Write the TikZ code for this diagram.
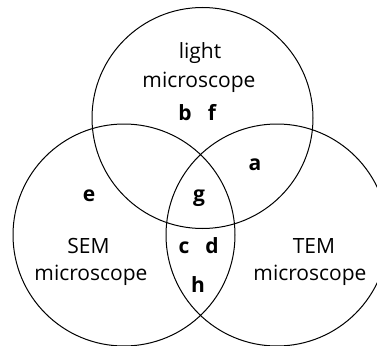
\documentclass[tikz,border=0pt]{standalone}
\usepackage{fontspec}
\setmainfont{Open Sans}
\begin{document}
\begin{tikzpicture}[x=1pt,y=-1pt,
  ring/.style={draw=black,line width=1pt},
  lbl/.style={anchor=base,inner sep=0pt,font=\fontsize{21}{25}\selectfont},
  let/.style={anchor=base,inner sep=0pt,font=\fontsize{21}{25}\selectfont\bfseries}]
\useasboundingbox (0,0) rectangle (377,345);
\clip (0,0) rectangle (377,345);
\draw[ring] (202.5,118) circle (110.5);
\draw[ring] (124,235) circle (111);
\draw[ring] (277,235) circle (111);
\node[lbl] (l1) at (200,59) {light};
\node[lbl] (l2) at (199,87) {microscope};
\node[lbl] (s1) at (88.5,253) {SEM};
\node[lbl] (s2) at (91,280) {microscope};
\node[lbl] (t1) at (314,253) {TEM};
\node[lbl] (t2) at (310,280) {microscope};
\node[let] (b) at (185,120) {b};
\node[let] (f) at (212,120) {f};
\node[let] (a) at (255,170) {a};
\node[let] (e) at (89,201) {e};
\node[let] (g) at (199,201) {g};
\node[let] (c) at (184,253) {c};
\node[let] (d) at (212,253) {d};
\node[let] (h) at (198,292) {h};
\end{tikzpicture}
\end{document}
